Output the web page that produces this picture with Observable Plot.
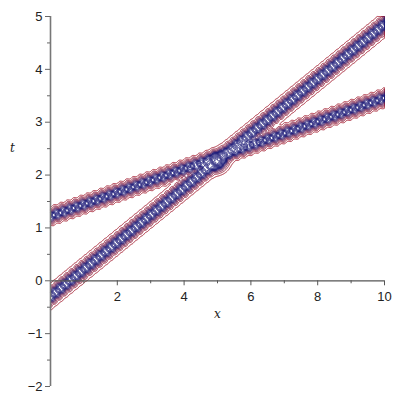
<!DOCTYPE html>
<html><head><meta charset="utf-8">
<script src="https://cdn.jsdelivr.net/npm/d3@7"></script>
<script src="https://cdn.jsdelivr.net/npm/@observablehq/plot@0.6"></script>
<style>body{margin:0;background:#fff}</style>
</head><body><div id="chart"></div>
<script>
// soliton lines t = intercept + slope * x
const solitonSlopes = [0.515, 0.224];
const solitonIntercepts = [-0.3, 1.22];
const solitonWidths = [6, 5];          // envelope width (px)
const solitonEnvAmp = [0.5, 0.45];
const solitonStrandAmp = [0.55, 0.5];
const solitonBraid = [3.2, 3.4];       // braid offset (px)
const solitonPeriod = [13, 14];        // braid period (px)
// interaction blob near the crossing
const blobX = [5.0], blobT = [2.25], blobAmp = [1.6];
const contourLevels = [0.06, 0.15, 0.27, 0.42, 0.55, 0.68, 0.8, 0.9, 1.0, 1.1, 1.25, 1.45, 1.7, 1.95, 2.2, 2.45, 2.7, 2.95, 3.2];
const xTicksMajor = [2, 4, 6, 8, 10];
const xTicksMinor = [1, 3, 5, 7, 9];
const yTicksMajor = [-2, -1, 0, 1, 2, 3, 4, 5];
const yTicksMinor = [-1.5, -0.5, 0.5, 1.5, 2.5, 3.5, 4.5];

const W = 400, H = 400, mL = 50, mR = 16, mT = 16, mB = 14;
const xDom = [0, 10], yDom = [-2, 5];
const sx = (W - mL - mR) / (xDom[1] - xDom[0]);
const sy = (H - mT - mB) / (yDom[1] - yDom[0]);

function soliton(x, t, i) {
  const B = solitonSlopes[i] * sy / sx;
  const X = x * sx, T = t * sy, A = solitonIntercepts[i] * sy;
  const n = Math.sqrt(1 + B * B);
  const d = (T - A - B * X) / n;
  const s = (X + B * (T - A)) / n;
  const c = solitonBraid[i] * Math.cos(2 * Math.PI * s / solitonPeriod[i]);
  const g = solitonStrandAmp[i] * (Math.exp(-((d - c) ** 2) / 14) + Math.exp(-((d + c) ** 2) / 14));
  const ch = Math.cosh(d / solitonWidths[i]);
  return solitonEnvAmp[i] / (ch * ch) + g;
}
const field = (x, t) => {
  const a = soliton(x, t, 0), b = soliton(x, t, 1);
  let v = Math.max(a, b) + 0.3 * Math.min(a, b);
  for (let j = 0; j < blobX.length; j++) {
    const dx = (x - blobX[j]) * sx, dt = (t - blobT[j]) * sy;
    v += blobAmp[j] * Math.exp(-(dx * dx + dt * dt) / 50);
  }
  return v;
};

const chart = Plot.plot({
  width: W, height: H,
  marginLeft: mL, marginRight: mR, marginTop: mT, marginBottom: mB,
  x: {domain: xDom, axis: null},
  y: {domain: yDom, axis: null},
  color: {type: "linear", domain: [0.06, 0.85], range: ["#a82436", "#1e1c7a"], interpolate: "rgb", clamp: true},
  style: {fontFamily: "Liberation Sans, sans-serif", fontSize: "13px", background: "white"},
  marks: [
    Plot.contour({x1: 0, x2: 10, y1: -2, y2: 5, value: field, thresholds: contourLevels,
      fill: "none", stroke: "value", strokeWidth: 1, pixelSize: 0.5}),
    Plot.ruleY([0], {stroke: "#555", strokeWidth: 1.2}),
    Plot.ruleX([0], {stroke: "#777", strokeWidth: 1.6}),
    Plot.ruleX(xTicksMajor, {x: d => d, y1: 0, y2: 0, insetBottom: -5, stroke: "#555"}),
    Plot.ruleX(xTicksMinor, {x: d => d, y1: 0, y2: 0, insetBottom: -3, stroke: "#555"}),
    Plot.ruleY(yTicksMajor, {y: d => d, x1: 0, x2: 0, insetLeft: -5, stroke: "#666"}),
    Plot.ruleY(yTicksMinor, {y: d => d, x1: 0, x2: 0, insetLeft: -3, stroke: "#666"}),
    Plot.text(xTicksMajor, {x: d => d, y: () => 0, dy: 16, text: d => String(d), fill: "#222", fontSize: 13}),
    Plot.text(yTicksMajor, {x: () => 0, y: d => d, dx: -8, textAnchor: "end", text: d => d < 0 ? "\u2212" + Math.abs(d) : String(d), fill: "#222", fontSize: 13}),
    Plot.text(["x"], {x: () => 5, y: () => 0, dy: 33, text: d => d, fontStyle: "italic", fontFamily: "DejaVu Serif, serif", fontSize: 12, fill: "#222"}),
    Plot.text(["t"], {x: () => 0, y: () => 2.5, dx: -38, text: d => d, fontStyle: "italic", fontFamily: "DejaVu Serif, serif", fontSize: 12, fill: "#222"})
  ]
});
document.getElementById("chart").append(chart);
</script></body></html>
